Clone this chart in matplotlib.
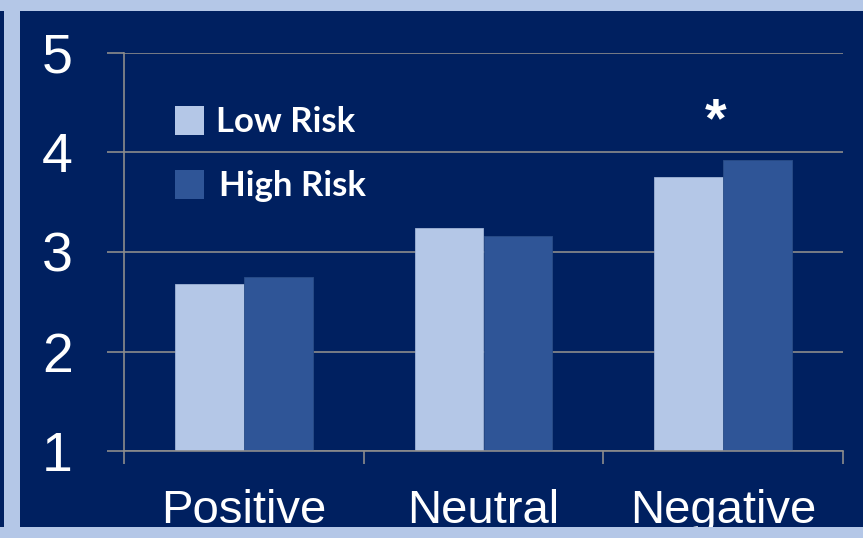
import matplotlib.pyplot as plt
from matplotlib.patches import Rectangle
import numpy as np

# values per mood category
categories = ['Positive', 'Neutral', 'Negative']
low_risk = [2.68, 3.24, 3.75]
high_risk = [2.75, 3.16, 3.92]
series_names = ['Low Risk', 'High Risk']
y_ticks = [1, 2, 3, 4, 5]

NAVY = '#002060'
LIGHT = '#b4c7e7'
DARK = '#2f5597'
GRID = '#8c8c8c'

W, H = 863, 538


def px(x, y):
    # pixel position -> figure fraction
    return x / W, 1 - y / H


fig = plt.figure(figsize=(W / 100, H / 100), dpi=100)
fig.patch.set_facecolor(NAVY)

ax = fig.add_axes([124 / W, 1 - 451 / H, 719 / W, 398 / H])
ax.set_facecolor(NAVY)

x = np.arange(len(categories))
bw = 0.2875
ax.bar(x - bw / 2, np.array(low_risk) - 1, bw, bottom=1, color=LIGHT,
       edgecolor='#9fb3d6', linewidth=0.6, zorder=3)
ax.bar(x + bw / 2, np.array(high_risk) - 1, bw, bottom=1, color=DARK,
       edgecolor='#2a4d88', linewidth=0.6, zorder=3)

ax.set_xlim(-0.5, 2.5)
ax.set_ylim(1, 5)

# y axis and gridlines
ax.set_yticks(y_ticks)
ax.set_yticklabels([str(v) for v in y_ticks], family='Liberation Sans',
                   fontsize=40, color='white')
ax.yaxis.grid(True, color=GRID, linewidth=1.2, zorder=0)
ax.tick_params(axis='y', length=12, width=1.2, color=GRID, pad=25)

# category boundary ticks, labels on minor ticks
ax.set_xticks([-0.5, 0.5, 1.5, 2.5])
ax.set_xticklabels([])
ax.set_xticks(x, minor=True)
ax.set_xticklabels(categories, minor=True, family='Liberation Sans',
                   fontsize=34, color='white')
ax.tick_params(axis='x', which='major', length=9, width=1.2, color=GRID)
ax.tick_params(axis='x', which='minor', length=0, pad=27.5)

for side in ['top', 'right']:
    ax.spines[side].set_visible(False)
for side in ['left', 'bottom']:
    ax.spines[side].set_color(GRID)
    ax.spines[side].set_linewidth(1.2)
    ax.spines[side].set_zorder(4)

# significance marker
ax.text(1.97, 4.3, '*', ha='center', va='center', color='white',
        fontsize=40, fontweight='bold', family='Liberation Sans')

# legend drawn by hand
text_x = [216, 219]
for i, (name, col) in enumerate(zip(series_names, [LIGHT, DARK])):
    top = 106 + i * 64
    x0, y0 = px(175, top + 29)
    fig.add_artist(Rectangle((x0, y0), 29 / W, 29 / H, transform=fig.transFigure,
                             facecolor=col, edgecolor='none', zorder=5))
    tx, ty = px(text_x[i], top + 16)
    fig.text(tx, ty, name, color='white', fontsize=25, fontweight='bold',
             family='Lato', va='center', ha='left')

# light frame on the left, top and bottom
frame = [(4, 0, 16, H), (0, 0, W, 11), (0, 527, W, 11)]
for fx, fy, fw, fh in frame:
    x0, y0 = px(fx, fy + fh)
    fig.add_artist(Rectangle((x0, y0), fw / W, fh / H, transform=fig.transFigure,
                             facecolor=LIGHT, edgecolor='none', zorder=10))
# thin dark edge at far left, between top and bottom frame
fig.add_artist(Rectangle((0, 11 / H), 4 / W, (527 - 11) / H,
                         transform=fig.transFigure, facecolor=NAVY,
                         edgecolor='none', zorder=11))

fig.savefig('out.png', dpi=100, facecolor=NAVY)
